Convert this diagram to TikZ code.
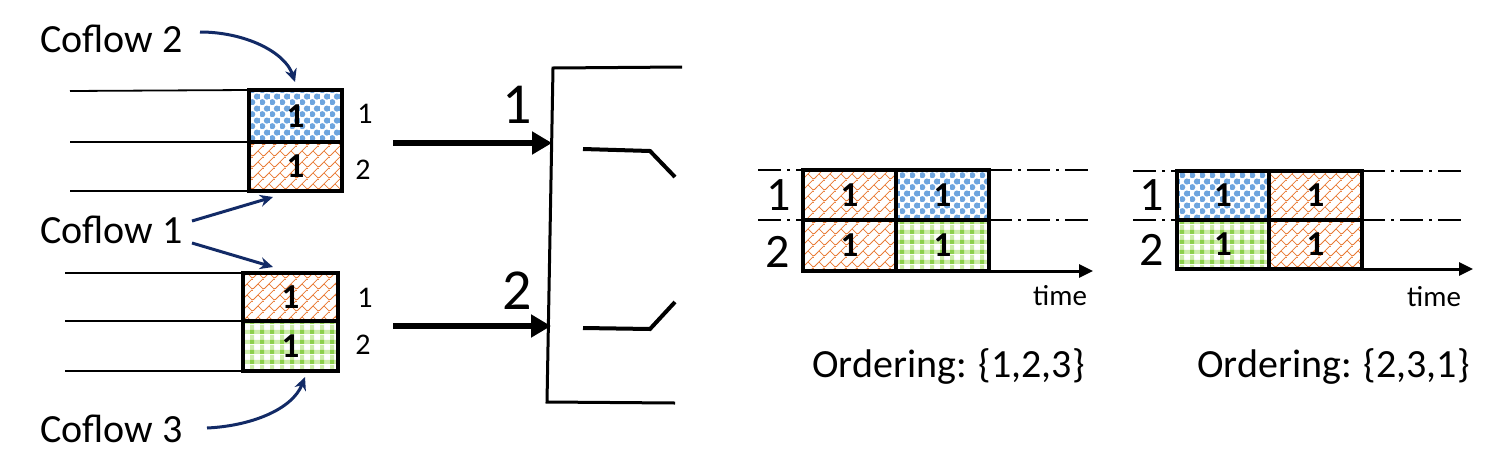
\documentclass[tikz,border=0pt]{standalone}
\usepackage{fontspec}
\setmainfont{Carlito}
\usetikzlibrary{arrows.meta,patterns}
\definecolor{dotblue}{RGB}{110,165,222}
\definecolor{brickorange}{RGB}{232,120,50}
\definecolor{lightgreen}{RGB}{205,236,170}
\definecolor{midgreen}{RGB}{140,208,75}
\definecolor{navyarrow}{RGB}{18,42,102}
\pgfdeclarepatterninherentlycolored{bluedots}
{\pgfpointorigin}{\pgfpoint{10pt}{12pt}}{\pgfpoint{10pt}{12pt}}
{%
  \pgfsetfillcolor{dotblue}%
  \pgfpathcircle{\pgfpoint{2.5pt}{3pt}}{3.3pt}\pgfusepath{fill}%
  \pgfpathcircle{\pgfpoint{7.5pt}{9pt}}{3.3pt}\pgfusepath{fill}%
}
\pgfdeclarepatterninherentlycolored{orangebrick}
{\pgfpointorigin}{\pgfpoint{11pt}{11pt}}{\pgfpoint{11pt}{11pt}}
{%
  \pgfsetstrokecolor{brickorange}\pgfsetlinewidth{0.8pt}%
  \pgfpathmoveto{\pgfpoint{-1pt}{-1pt}}\pgfpathlineto{\pgfpoint{12pt}{12pt}}%
  \pgfpathmoveto{\pgfpoint{5.5pt}{5.5pt}}\pgfpathlineto{\pgfpoint{11pt}{0pt}}%
  \pgfusepath{stroke}%
}
\pgfdeclarepatterninherentlycolored{greenplaid}
{\pgfpointorigin}{\pgfpoint{10pt}{10pt}}{\pgfpoint{10pt}{10pt}}
{%
  \pgfsetfillcolor{lightgreen}%
  \pgfpathrectangle{\pgfpointorigin}{\pgfpoint{10pt}{4.5pt}}\pgfusepath{fill}%
  \pgfpathrectangle{\pgfpointorigin}{\pgfpoint{4.5pt}{10pt}}\pgfusepath{fill}%
  \pgfsetfillcolor{midgreen}%
  \pgfpathrectangle{\pgfpointorigin}{\pgfpoint{4.5pt}{4.5pt}}\pgfusepath{fill}%
}
\tikzset{
  cell/.style={draw, line width=3.6pt, anchor=north west, inner sep=0pt, outer sep=0pt,
    font=\fontsize{35}{38}\selectfont\bfseries},
  bluecell/.style={cell, pattern=bluedots},
  orangecell/.style={cell, pattern=orangebrick},
  greencell/.style={cell, pattern=greenplaid},
  bigtext/.style={inner sep=0pt, anchor=base west, font=\fontsize{40}{48}\selectfont},
  portlabel/.style={inner sep=0pt, anchor=base, font=\fontsize{30}{32}\selectfont},
  swlabel/.style={inner sep=0pt, anchor=base, font=\fontsize{58}{60}\selectfont},
  tllabel/.style={inner sep=0pt, anchor=base, font=\fontsize{48}{50}\selectfont},
  timelabel/.style={inner sep=0pt, anchor=base west, font=\fontsize{29}{32}\selectfont},
  thinline/.style={line width=1.8pt},
  navy/.style={draw=navyarrow, line width=3pt, -{Stealth[length=13pt,width=12pt]}},
  fatarrow/.style={line width=6pt, -{Triangle[length=20pt,width=22pt]}},
  axis/.style={line width=3pt, -{Triangle[length=14pt,width=13pt]}},
  dashdot/.style={line width=2pt, dash pattern=on 23pt off 6pt on 3pt off 6pt},
  swline/.style={line width=3pt},
  swarm/.style={line width=4pt},
}
\begin{document}
\begin{tikzpicture}[x=1pt,y=-1pt]
\useasboundingbox (0,0) rectangle (1503,453);
% ---------- left: port queues ----------
\node[bluecell, minimum width=93pt, minimum height=52pt] (a1) at (249,90) {1};
\node[orangecell, minimum width=93pt, minimum height=49pt] (a2) at (249,142) {1};
\node[orangecell, minimum width=95pt, minimum height=48pt] (b1) at (243,273) {1};
\node[greencell, minimum width=95pt, minimum height=50pt] (b2) at (243,321) {1};

\coordinate (la1) at (70,91);
\coordinate (la2) at (70,142);
\coordinate (la3) at (70,191);
\coordinate (lb1) at (65,273);
\coordinate (lb2) at (65,321);
\coordinate (lb3) at (65,371);
\draw[thinline] (la1) -- (a1.north west);
\draw[thinline] (la2) -- (a1.south west);
\draw[thinline] (la3) -- (a2.south west);
\draw[thinline] (lb1) -- (b1.north west);
\draw[thinline] (lb2) -- (b1.south west);
\draw[thinline] (lb3) -- (b2.south west);

\node[portlabel] (pa1) at (365,123) {1};
\node[portlabel] (pa2) at (363,179) {2};
\node[portlabel] (pb1) at (365,307) {1};
\node[portlabel] (pb2) at (363,354) {2};

\node[bigtext] (cf2) at (40,52) {Coflow 2};
\node[bigtext] (cf1) at (40,243) {Coflow 1};
\node[bigtext] (cf3) at (40,442) {Coflow 3};

\coordinate (s2) at (200,32);
\coordinate (t2) at (295,82);
\coordinate (s1a) at (192,221);
\coordinate (t1a) at (273,197);
\coordinate (s1b) at (192,243);
\coordinate (t1b) at (273,267);
\coordinate (s3) at (207,428);
\coordinate (t3) at (305,377);
\draw[navy] (s2) .. controls (245,32) and (285,52) .. (t2);
\draw[navy] (s1a) -- (t1a);
\draw[navy] (s1b) -- (t1b);
\draw[navy] (s3) .. controls (250,426) and (292,410) .. (t3);

% ---------- middle: switch ----------
\coordinate (swtr) at (682,67);
\coordinate (swtl) at (553,68);
\coordinate (swbl) at (547,402);
\coordinate (swbr) at (675,403);
\draw[swline] (swtr) -- (swtl) -- (swbl) -- (swbr);

\coordinate (in1s) at (393,143);
\coordinate (in1e) at (552,143);
\coordinate (in2s) at (393,326);
\coordinate (in2e) at (551,326);
\draw[fatarrow] (in1s) -- (in1e);
\draw[fatarrow] (in2s) -- (in2e);
\node[swlabel] (sw1) at (517,123) {1};
\node[swlabel] (sw2) at (517,309) {2};

\coordinate (m1a) at (583,149);
\coordinate (m1b) at (650,151);
\coordinate (m1c) at (675,177);
\coordinate (m2a) at (583,328);
\coordinate (m2b) at (650,329);
\coordinate (m2c) at (675,302);
\draw[swarm] (m1a) -- (m1b) -- (m1c);
\draw[swarm] (m2a) -- (m2b) -- (m2c);

% ---------- timeline 1 ----------
\coordinate (d1a) at (758,170);
\coordinate (d1b) at (1088,170);
\coordinate (d1c) at (758,220);
\coordinate (d1d) at (1088,220);
\node[orangecell, minimum width=93pt, minimum height=50pt] (p11) at (803,170) {1};
\node[bluecell, minimum width=93pt, minimum height=50pt] (p12) at (896,170) {1};
\node[orangecell, minimum width=93pt, minimum height=51pt] (p21) at (803,220) {1};
\node[greencell, minimum width=93pt, minimum height=51pt] (p22) at (896,220) {1};
\draw[dashdot] (d1a) -- (p11.north west);
\draw[dashdot] (p12.north east) -- (d1b);
\draw[dashdot] (d1c) -- (p21.north west);
\draw[dashdot] (p22.north east) -- (d1d);
\coordinate (ax1) at (1093,271);
\draw[axis] (p21.south west) -- (ax1);
\node[tllabel] (q11) at (779,210) {1};
\node[tllabel] (q12) at (778,267) {2};
\node[timelabel] (time1) at (1033,305) {time};
\node[bigtext] (ord1) at (812,377) {Ordering: \{1,2,3\}};

% ---------- timeline 2 ----------
\coordinate (d2a) at (1133,171);
\coordinate (d2b) at (1463,171);
\coordinate (d2c) at (1133,220);
\coordinate (d2d) at (1463,220);
\node[bluecell, minimum width=92pt, minimum height=49pt] (r11) at (1177,171) {1};
\node[orangecell, minimum width=93pt, minimum height=49pt] (r12) at (1269,171) {1};
\node[greencell, minimum width=92pt, minimum height=49pt] (r21) at (1177,220) {1};
\node[orangecell, minimum width=93pt, minimum height=49pt] (r22) at (1269,220) {1};
\draw[dashdot] (d2a) -- (r11.north west);
\draw[dashdot] (r12.north east) -- (d2b);
\draw[dashdot] (d2c) -- (r21.north west);
\draw[dashdot] (r22.north east) -- (d2d);
\coordinate (ax2) at (1473,269);
\draw[axis] (r21.south west) -- (ax2);
\node[tllabel] (q21) at (1152,210) {1};
\node[tllabel] (q22) at (1152,265) {2};
\node[timelabel] (time2) at (1407,306) {time};
\node[bigtext] (ord2) at (1197,377) {Ordering: \{2,3,1\}};
\end{tikzpicture}
\end{document}
